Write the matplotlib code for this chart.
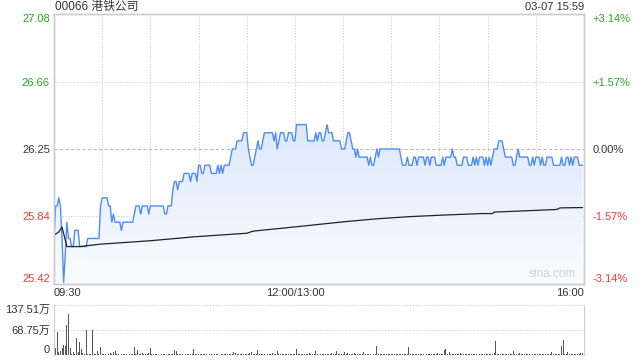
import numpy as np
import matplotlib
matplotlib.use("Agg")
import matplotlib.pyplot as plt
from matplotlib.colors import LinearSegmentedColormap


# =================================================
# DATA
# =================================================

stock_title = "00066 港铁公司"
stamp = "03-07 15:59"
prev_close = 26.25

# one price per trading minute, 09:30 .. 15:59 (lunch break removed)
prices = [
    25.70, 25.90, 25.90, 25.95, 25.90, 25.70, 25.43, 25.60, 25.80, 25.70,
    25.70, 25.65, 25.65, 25.75, 25.75, 25.75, 25.65, 25.65, 25.65, 25.65,
    25.65, 25.70, 25.70, 25.70, 25.70, 25.70, 25.70, 25.70, 25.70, 25.90,
    25.95, 25.95, 25.95, 25.95, 25.90, 25.90, 25.80, 25.85, 25.80, 25.80,
    25.80, 25.80, 25.75, 25.80, 25.80, 25.80, 25.80, 25.80, 25.80, 25.80,
    25.85, 25.90, 25.90, 25.90, 25.85, 25.90, 25.90, 25.90, 25.90, 25.85,
    25.90, 25.90, 25.90, 25.90, 25.90, 25.90, 25.90, 25.90, 25.90, 25.85,
    25.85, 25.90, 25.90, 25.90, 26.00, 26.05, 26.05, 26.00, 26.05, 26.05,
    26.05, 26.10, 26.10, 26.10, 26.10, 26.05, 26.10, 26.10, 26.10, 26.05,
    26.15, 26.15, 26.10, 26.10, 26.15, 26.15, 26.15, 26.15, 26.10, 26.10,
    26.10, 26.10, 26.15, 26.10, 26.15, 26.10, 26.15, 26.15, 26.15, 26.15,
    26.20, 26.25, 26.25, 26.25, 26.30, 26.30, 26.30, 26.30, 26.35, 26.35,
    26.35, 26.25, 26.20, 26.15, 26.15, 26.20, 26.25, 26.30, 26.25, 26.25,
    26.30, 26.35, 26.35, 26.35, 26.35, 26.35, 26.35, 26.30, 26.35, 26.25,
    26.30, 26.35, 26.35, 26.35, 26.30, 26.30, 26.35, 26.35, 26.35, 26.30,
    26.30, 26.40, 26.40, 26.40, 26.40, 26.40, 26.40, 26.40, 26.30, 26.30,
    26.30, 26.30, 26.30, 26.35, 26.30, 26.35, 26.35, 26.30, 26.30, 26.35,
    26.40, 26.35, 26.35, 26.35, 26.30, 26.30, 26.30, 26.30, 26.30, 26.25,
    26.25, 26.25, 26.30, 26.35, 26.35, 26.30, 26.25, 26.25, 26.20, 26.25,
    26.20, 26.20, 26.20, 26.20, 26.20, 26.20, 26.15, 26.20, 26.15, 26.15,
    26.20, 26.25, 26.20, 26.25, 26.25, 26.25, 26.25, 26.25, 26.25, 26.25,
    26.25, 26.25, 26.25, 26.25, 26.25, 26.25, 26.20, 26.15, 26.15, 26.15,
    26.20, 26.15, 26.15, 26.15, 26.20, 26.20, 26.15, 26.20, 26.20, 26.20,
    26.20, 26.15, 26.20, 26.20, 26.15, 26.20, 26.20, 26.20, 26.15, 26.15,
    26.15, 26.15, 26.20, 26.15, 26.20, 26.20, 26.20, 26.20, 26.25, 26.20,
    26.20, 26.15, 26.15, 26.15, 26.15, 26.20, 26.20, 26.20, 26.15, 26.15,
    26.15, 26.20, 26.15, 26.20, 26.15, 26.20, 26.20, 26.20, 26.15, 26.20,
    26.15, 26.20, 26.15, 26.20, 26.25, 26.25, 26.25, 26.30, 26.30, 26.30,
    26.25, 26.20, 26.20, 26.20, 26.20, 26.20, 26.15, 26.15, 26.20, 26.25,
    26.20, 26.20, 26.20, 26.20, 26.20, 26.20, 26.15, 26.15, 26.20, 26.15,
    26.20, 26.20, 26.20, 26.15, 26.20, 26.15, 26.15, 26.20, 26.20, 26.20,
    26.20, 26.15, 26.15, 26.15, 26.15, 26.15, 26.20, 26.15, 26.15, 26.20,
    26.20, 26.15, 26.20, 26.15, 26.20, 26.20, 26.20, 26.15, 26.15, 26.15,
]

# average price line (read at its kinks)
avg_minutes = [0, 3, 5, 8, 16, 29, 60, 87, 120, 124, 134, 151, 181, 200,
               221, 243, 266, 273, 274, 313, 315, 329]
avg_values = [25.72, 25.74, 25.77, 25.65, 25.65, 25.665, 25.686, 25.71,
              25.732, 25.745, 25.755, 25.772, 25.803, 25.82, 25.834,
              25.844, 25.853, 25.853, 25.862, 25.878, 25.888, 25.89]

# volume per minute, in 万 shares
volumes = [
    137.5, 20, 64, 9, 12, 18, 27, 25, 82, 113, 18, 4, 9, 3, 48, 9, 36, 16, 5, 3,
    69, 4, 3, 2, 69, 4, 3, 11, 2, 22,
    3, 2, 4, 2, 3, 5, 2, 8, 11, 3, 2, 1, 2, 3, 2, 2, 1, 3, 2, 4,
    22, 3, 14, 2, 3, 5, 4, 2, 3, 5,
    19, 3, 2, 4, 2, 1, 2, 3, 2, 2, 1, 2, 3, 4, 3, 15, 12, 4, 2, 3,
    2, 1, 2, 3, 2, 4, 2, 16, 3, 2,
    2, 3, 4, 2, 3, 2, 1, 2, 3, 4, 2, 3, 2, 1, 2, 3, 2, 4, 3, 2,
    3, 2, 8, 6, 2, 3, 2, 4, 3, 2,
    3, 2, 6, 8, 2, 3, 4, 14, 3, 2, 2, 3, 4, 2, 3, 2, 5, 3, 2, 11,
    3, 2, 4, 3, 2, 3, 2, 4, 3, 2,
    3, 16, 4, 3, 2, 3, 2, 4, 3, 6, 3, 2, 3, 11, 2, 3, 4, 2, 3, 2,
    4, 3, 2, 5, 3, 4, 11, 3, 2, 4,
    3, 8, 4, 6, 3, 2, 3, 5, 4, 3, 2, 4, 3, 8, 3, 2, 3, 4, 3, 2,
    3, 26, 4, 3, 2, 4, 3, 2, 3, 2,
    4, 3, 2, 3, 4, 2, 3, 2, 3, 4, 2, 22, 3, 2, 4, 3, 2, 3, 4, 2,
    3, 2, 4, 3, 2, 3, 4, 2, 3, 5,
    3, 2, 4, 14, 17, 3, 9, 3, 2, 4, 3, 2, 3, 5, 2, 3, 4, 2, 3, 2,
    4, 3, 2, 3, 2, 4, 3, 2, 3, 2,
    3, 2, 4, 3, 5, 39, 3, 2, 4, 3, 2, 3, 4, 2, 3, 2, 11, 3, 2, 4,
    5, 3, 2, 3, 2, 4, 3, 2, 3, 4,
    2, 3, 4, 2, 3, 2, 3, 4, 2, 3, 8, 3, 4, 2, 3, 2, 25, 41, 3, 2,
    8, 4, 3, 2, 3, 4, 2, 3, 5, 6,
]

price_ticks = [25.42, 25.84, 26.25, 26.66, 27.08]
price_labels = ["25.42", "25.84", "26.25", "26.66", "27.08"]
pct_labels = ["-3.14%", "-1.57%", "0.00%", "+1.57%", "+3.14%"]
tick_colors = ["#f03a2f", "#f03a2f", "#333333", "#22aa22", "#22aa22"]

time_ticks = [0, 150, 330]
time_labels = ["09:30", "12:00/13:00", "16:00"]

vol_ticks = [0, 68.75, 137.51]
vol_labels = ["0", "68.75万", "137.51万"]


# =================================================
# STYLE
# =================================================

plt.rcParams["font.family"] = ["Liberation Sans", "Noto Sans CJK SC", "DejaVu Sans"]
plt.rcParams["font.size"] = 8

GRID = "#cccccc"
FRAME = "#cccccc"
TEXT = "#333333"
LINE = "#4d8cf5"

minutes = np.arange(len(prices))
prices = np.array(prices)

fig = plt.figure(figsize=(6.4, 3.6), dpi=100)
ax = fig.add_axes([54 / 640, 76 / 360, 530 / 640, 270 / 360])
vax = fig.add_axes([54 / 640, 5 / 360, 530 / 640, 50 / 360])


# =================================================
# PRICE PANEL
# =================================================

poly = ax.fill_between(minutes, prices, price_ticks[0], color="none", lw=0)
cmap = LinearSegmentedColormap.from_list("fade", ["#fafcff", "#dde8fb"])
grad = ax.imshow(np.linspace(0, 1, 256).reshape(-1, 1), cmap=cmap,
                 extent=[0, minutes[-1], price_ticks[0], prices.max()],
                 origin="lower", aspect="auto", zorder=1)
grad.set_clip_path(poly.get_paths()[0], transform=ax.transData)

ax.plot(minutes, prices, color=LINE, lw=1.0, zorder=3)
ax.plot(avg_minutes, avg_values, color="#222222", lw=0.9, zorder=3)

ax.set_xlim(0, 330)
ax.set_ylim(price_ticks[0], price_ticks[-1])

# grid: dotted verticals every 30 minutes, dotted horizontals, dashed prev close
for m in range(30, 330, 30):
    ax.axvline(m, color=GRID, lw=0.8, ls=(0, (1, 1.5)), zorder=0)
for p in price_ticks[1:-1]:
    if p == prev_close:
        ax.axhline(p, color="#bbbbbb", lw=0.8, ls=(0, (3, 2)), zorder=0)
    else:
        ax.axhline(p, color=GRID, lw=0.8, ls=(0, (1, 1.5)), zorder=0)

ax.set_yticks(price_ticks)
ax.set_yticklabels(price_labels)
ax.tick_params(axis="y", length=0, pad=3)
for i, lab in enumerate(ax.get_yticklabels()):
    lab.set_color(tick_colors[i])
    if i == 0:
        lab.set_va("bottom")
    elif i == len(price_ticks) - 1:
        lab.set_va("top")

ax.set_xticks(time_ticks)
ax.set_xticklabels(time_labels, color=TEXT)
ax.tick_params(axis="x", length=0, pad=3)
xl = ax.get_xticklabels()
xl[0].set_ha("left")
xl[2].set_ha("right")

rax = ax.twinx()
rax.set_ylim(price_ticks[0], price_ticks[-1])
rax.set_yticks(price_ticks)
rax.set_yticklabels(pct_labels)
rax.tick_params(axis="y", length=0, pad=6)
for i, lab in enumerate(rax.get_yticklabels()):
    lab.set_color(tick_colors[i])
    if i == 0:
        lab.set_va("bottom")
    elif i == len(price_ticks) - 1:
        lab.set_va("top")

for a in (ax, rax):
    for s in a.spines.values():
        s.set_color(FRAME)
        s.set_linewidth(1.0)

ax.text(0.985, 0.015, "sina.com", transform=ax.transAxes, ha="right",
        va="bottom", color="#cfcfcf", fontsize=8.5)

fig.text(55 / 640, 1 - 7 / 360, stock_title, ha="left", va="center",
         color=TEXT, fontsize=8.5)
fig.text(584 / 640, 1 - 7 / 360, stamp, ha="right", va="center",
         color=TEXT, fontsize=8)


# =================================================
# VOLUME PANEL
# =================================================

vax.bar(np.arange(len(volumes)), volumes, width=0.6, color="#555555", lw=0)
vax.set_xlim(0, 330)
vax.set_ylim(0, vol_ticks[-1])

for v in vol_ticks[1:]:
    vax.axhline(v, color=GRID, lw=0.8, ls=(0, (1, 1.5)), zorder=0, clip_on=False)

vax.set_xticks([])
vax.set_yticks(vol_ticks)
vax.set_yticklabels(vol_labels, color=TEXT)
vax.tick_params(axis="y", length=0, pad=3)
vl = vax.get_yticklabels()
vl[0].set_va("bottom")
vl[2].set_va("top")

vax.spines["top"].set_visible(False)
vax.spines["bottom"].set_visible(False)
vax.spines["left"].set_color(FRAME)
vax.spines["right"].set_color(FRAME)

fig.savefig("out.png", dpi=100)
plt.close(fig)
